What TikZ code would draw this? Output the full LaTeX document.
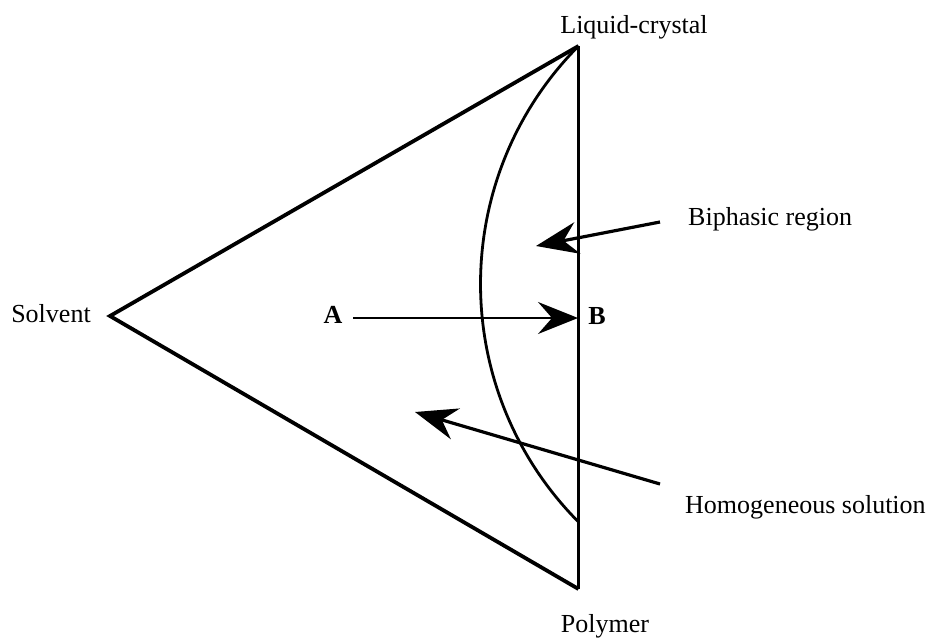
\documentclass[tikz,border=0pt]{standalone}
\usepackage{fontspec}
\setmainfont{Liberation Serif}
\usetikzlibrary{arrows.meta}
\begin{document}
\begin{tikzpicture}[x=1pt,y=-1pt,
  lbl/.style={inner sep=0pt, font=\fontsize{26}{30}\selectfont},
  side/.style={line width=3.8pt, line join=miter},
  thin/.style={line width=2.8pt},
  bigarrow/.style={line width=3.2pt, -{Stealth[length=42pt,width=32pt,inset=14pt]}},
  abarrow/.style={line width=2.2pt, -{Stealth[length=40pt,width=32pt,inset=14pt]}}]
\useasboundingbox (0,0) rectangle (933,637);
% vertices
\coordinate (S) at (110,316);
\coordinate (L) at (578.5,46);
\coordinate (P) at (578.5,589);
% triangle
\draw[side] (L) -- (S) -- (P);
\draw[thin] (L) -- (P);
% binodal curve (circular arc, centre (818,284), radius 338)
\draw[thin] (L) arc[start angle={180+asin(238/338)}, end angle={180-asin(238/338)}, radius=338];
% labels
\node[lbl] (lc) at (634,27) {Liquid-crystal};
\node[lbl] (pol) at (605,626) {Polymer};
\node[lbl] (sol) at (51,314) {Solvent};
\node[lbl] (A) at (333,315) {\textbf{A}};
\node[lbl] (B) at (597,316) {\textbf{B}};
\node[lbl, anchor=west] (bip) at (688,219) {Biphasic region};
\node[lbl, anchor=west] (hom) at (685,507) {Homogeneous solution};
% arrows
\coordinate (Bt) at (578,318);
\coordinate (At) at (353,318);
\draw[abarrow] (At) -- (Bt);
\coordinate (bt) at (660,222);
\coordinate (bh) at (536,246);
\draw[bigarrow] (bt) -- (bh);
\coordinate (ht) at (660,484);
\coordinate (hh) at (415,412);
\draw[bigarrow] (ht) -- (hh);
\end{tikzpicture}
\end{document}
